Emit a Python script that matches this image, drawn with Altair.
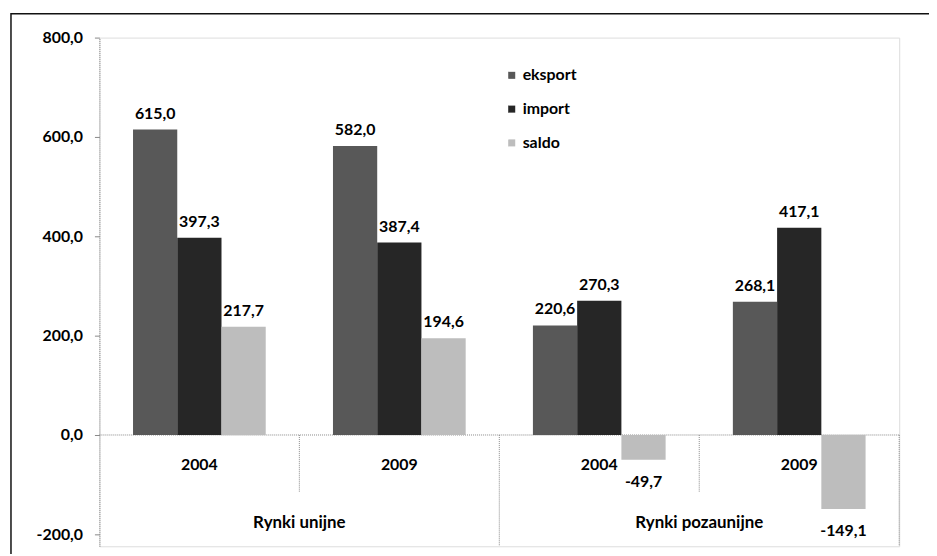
import altair as alt
import pandas as pd

# ---- data ----
groups = ["Rynki unijne", "Rynki unijne", "Rynki pozaunijne", "Rynki pozaunijne"]
years = ["2004", "2009", "2004", "2009"]
series = ["eksport", "import", "saldo"]
eksport = [615.0, 582.0, 220.6, 268.1]
import_ = [397.3, 387.4, 270.3, 417.1]
saldo = [217.7, 194.6, -49.7, -149.1]
colors = ["#585858", "#262626", "#bdbdbd"]
y_ticks = [-200, 0, 200, 400, 600, 800]

slots = [f"{g} {y}" for g, y in zip(groups, years)]
rows = []
for i, s in enumerate(slots):
    for name, vals in zip(series, [eksport, import_, saldo]):
        rows.append({"slot": s, "year": years[i], "group": groups[i], "series": name, "value": vals[i]})
df = pd.DataFrame(rows)
slot_df = pd.DataFrame({"slot": slots, "year": years, "group": groups})
grp_names = list(dict.fromkeys(groups))
grp_anchor = [slots[groups.index(g) + 1] for g in grp_names]
grp_df = pd.DataFrame({"group": grp_names, "anchor": grp_anchor})
grp_start = pd.DataFrame({"anchor": [slots[groups.index(g)] for g in grp_names][1:] + [slots[-1]]})

W, H = 805, 512
FONT = "Lato"
LBL = "replace(replace(format(datum.value, '.1f'), '.', ','), '\u2212', '-')"

xscale = alt.Scale(domain=slots, paddingInner=0, paddingOuter=0)
yscale = alt.Scale(domain=[-224, 800], nice=False, zero=False)

X = alt.X("slot:N", sort=slots, scale=xscale, axis=None)
XO = alt.XOffset("series:N", sort=series, scale=alt.Scale(domain=series, paddingInner=0, paddingOuter=0.76))
Y = alt.Y("value:Q", scale=yscale,
          axis=alt.Axis(values=y_ticks, title=None, grid=False, labelExpr=LBL,
                        domainColor="#888", domainDash=[1, 1], tickColor="#888", tickSize=5,
                        labelFont=FONT, labelFontWeight="bold", labelFontSize=16, labelColor="#000",
                        labelPadding=12))

base = alt.Chart(df)

frame = alt.Chart(pd.DataFrame({"a": [0]})).mark_rect(fillOpacity=0, stroke="#111", strokeWidth=1.5).encode(
    x=alt.value(-89), x2=alt.value(W + 40), y=alt.value(-24), y2=alt.value(H + 40))

zero = alt.Chart(pd.DataFrame({"a": [0]})).mark_rule(color="#888", strokeDash=[1, 1]).encode(
    y=alt.datum(0, scale=yscale), x=alt.value(0), x2=alt.value(W))

bars = base.mark_bar().encode(
    x=X, xOffset=XO, y=Y, y2=alt.datum(0),
    color=alt.Color("series:N", sort=series, scale=alt.Scale(domain=series, range=colors),
                    legend=alt.Legend(title=None, orient="none", legendX=407, legendY=30,
                                      symbolType="square", symbolSize=50, symbolStrokeWidth=0,
                                      labelFont=FONT, labelFontWeight="bold", labelFontSize=16,
                                      labelColor="#000", rowPadding=18, padding=0, labelOffset=3)))

pos_lbl = base.transform_filter("datum.value >= 0").transform_calculate(lbl=LBL).mark_text(
    baseline="bottom", dy=-8, font=FONT, fontWeight="bold", fontSize=16, color="#000").encode(
    x=X, xOffset=XO, y=alt.Y("value:Q", scale=yscale), text="lbl:N")

neg_lbl = base.transform_filter("datum.value < 0").transform_calculate(lbl=LBL).mark_text(
    baseline="top", dy=14, font=FONT, fontWeight="bold", fontSize=16, color="#000").encode(
    x=X, xOffset=XO, y=alt.Y("value:Q", scale=yscale), text="lbl:N")

year_lbl = alt.Chart(slot_df).mark_text(font=FONT, fontWeight="bold", fontSize=16, color="#000").encode(
    x=X, y=alt.value(430), text="year:N")

grp_lbl = alt.Chart(grp_df).mark_text(font=FONT, fontWeight="bold", fontSize=17, color="#000").encode(
    x=alt.X("anchor:N", sort=slots, scale=xscale, axis=None, bandPosition=0),
    y=alt.value(489), text="group:N")

year_sep = alt.Chart(grp_df).mark_rule(color="#888", strokeDash=[1, 1]).encode(
    x=alt.X("anchor:N", sort=slots, scale=xscale, axis=None, bandPosition=0),
    y=alt.datum(0, scale=yscale), y2=alt.value(457))

grp_sep0 = alt.Chart(grp_start.iloc[:-1]).mark_rule(color="#888", strokeDash=[1, 1]).encode(
    x=alt.X("anchor:N", sort=slots, scale=xscale, axis=None, bandPosition=0),
    y=alt.datum(0, scale=yscale), y2=alt.value(H))
grp_sep1 = alt.Chart(grp_start.iloc[-1:]).mark_rule(color="#888", strokeDash=[1, 1]).encode(
    x=alt.X("anchor:N", sort=slots, scale=xscale, axis=None, bandPosition=1),
    y=alt.datum(0, scale=yscale), y2=alt.value(H))

chart = alt.layer(frame, zero, year_sep, grp_sep0, grp_sep1, bars, pos_lbl, neg_lbl, year_lbl, grp_lbl).properties(
    width=W, height=H,
    autosize=alt.AutoSizeParams(type="none"),
    padding={"left": 92, "top": 28, "right": 30, "bottom": 6},
).configure_view(stroke=None).configure(background="white")

chart.save("out.html", embed_options={"renderer": "svg", "actions": False})
